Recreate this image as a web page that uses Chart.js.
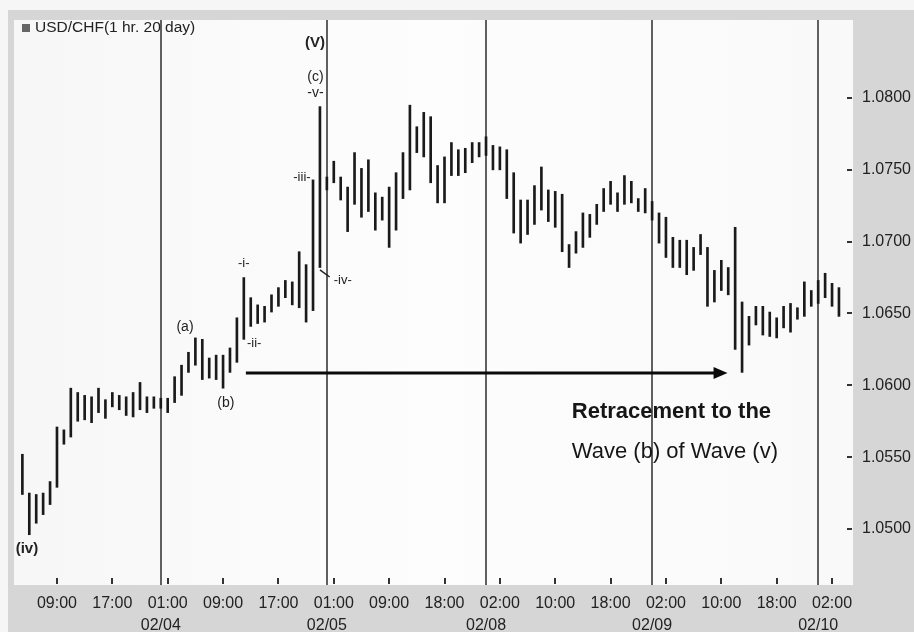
<!DOCTYPE html>
<html><head><meta charset="utf-8">
<script src="https://cdn.jsdelivr.net/npm/chart.js@4"></script>
<style>html,body{margin:0;padding:0;background:#f6f6f6;}canvas{display:block;}</style>
</head><body>
<canvas id="c" width="914" height="632"></canvas>
<script>
// ---- data (1-hour bars, USD/CHF) ----
const highs = [
1.0552,1.0525,1.0524,1.0525,1.0533,1.0571,1.0569,1.0598,1.0595,1.0593,
1.0592,1.0598,1.0590,1.0595,1.0593,1.0592,1.0595,1.0602,1.0592,1.0592,
1.0591,1.0591,1.0606,1.0614,1.0623,1.0633,1.0632,1.0619,1.0621,1.0621,
1.0626,1.0647,1.0675,1.0661,1.0656,1.0655,1.0663,1.0668,1.0673,1.0672,
1.0693,1.0684,1.0743,1.0794,1.0745,1.0756,1.0745,1.0738,1.0762,1.0751,
1.0757,1.0734,1.0731,1.0738,1.0748,1.0762,1.0795,1.0780,1.0790,1.0787,
1.0753,1.0759,1.0769,1.0764,1.0765,1.0769,1.0769,1.0773,1.0767,1.0766,
1.0764,1.0748,1.0729,1.0729,1.0739,1.0752,1.0736,1.0735,1.0733,1.0698,
1.0707,1.0720,1.0719,1.0726,1.0737,1.0742,1.0734,1.0746,1.0742,1.0730,
1.0737,1.0728,1.0720,1.0717,1.0703,1.0701,1.0701,1.0696,1.0705,1.0696,
1.0680,1.0687,1.0682,1.0710,1.0658,1.0648,1.0655,1.0655,1.0651,1.0647,
1.0655,1.0657,1.0654,1.0672,1.0666,1.0673,1.0678,1.0671,1.0668
];
const lows = [
1.0524,1.0496,1.0504,1.0510,1.0517,1.0529,1.0559,1.0564,1.0575,1.0576,
1.0574,1.0581,1.0577,1.0585,1.0583,1.0579,1.0578,1.0583,1.0581,1.0584,
1.0584,1.0581,1.0588,1.0593,1.0609,1.0614,1.0604,1.0605,1.0604,1.0598,
1.0609,1.0616,1.0632,1.0641,1.0643,1.0644,1.0651,1.0655,1.0661,1.0656,
1.0654,1.0644,1.0652,1.0682,1.0736,1.0741,1.0729,1.0707,1.0726,1.0717,
1.0721,1.0708,1.0715,1.0696,1.0708,1.0730,1.0736,1.0762,1.0759,1.0741,
1.0727,1.0727,1.0746,1.0746,1.0748,1.0755,1.0759,1.0760,1.0750,1.0750,
1.0730,1.0706,1.0699,1.0705,1.0712,1.0722,1.0714,1.0710,1.0693,1.0682,
1.0692,1.0696,1.0703,1.0712,1.0721,1.0726,1.0721,1.0726,1.0727,1.0721,
1.0720,1.0715,1.0699,1.0689,1.0682,1.0682,1.0677,1.0680,1.0691,1.0655,
1.0658,1.0666,1.0663,1.0625,1.0609,1.0628,1.0642,1.0635,1.0634,1.0633,
1.0640,1.0637,1.0646,1.0648,1.0655,1.0657,1.0661,1.0655,1.0648
];
const barIndex = highs.map((_, i) => i);           // hourly bar number
const tickIndex  = [5,13,21,29,37,45,53,61,69,77,85,93,101,109,117];
const tickLabels = ['09:00','17:00','01:00','09:00','17:00','01:00','09:00','18:00','02:00','10:00','18:00','02:00','10:00','18:00','02:00'];
const dayBreaks  = [20,44,67,91,115];
const dayLabels  = ['02/04','02/05','02/08','02/09','02/10'];
const priceTicks = [1.05,1.055,1.06,1.065,1.07,1.075,1.08];
const seriesName = 'USD/CHF(1 hr. 20 day)';
const waveLabels = [
  {t:'(iv)',  i:0.66,  p:1.04861, bold:true,  size:15},
  {t:'(V)',   i:42.28, p:1.08383, bold:true,  size:15},
  {t:'(c)',   i:42.35, p:1.08146, bold:false, size:14},
  {t:'-v-',   i:42.35, p:1.08035, bold:false, size:14},
  {t:'-iii-', i:40.4,  p:1.07450, bold:false, size:13},
  {t:'-iv-',  i:46.3,  p:1.06733, bold:false, size:13},
  {t:'(a)',   i:23.5,  p:1.06406, bold:false, size:14},
  {t:'(b)',   i:29.4,  p:1.05877, bold:false, size:14},
  {t:'-i-',   i:32.0,  p:1.06852, bold:false, size:13},
  {t:'-ii-',  i:33.5,  p:1.06295, bold:false, size:13}
];
const ivLink = {i1:43.0, p1:1.06803, i2:44.4, p2:1.06754};
const arrow = {from:32.3, to:101.9, p:1.06086};
const noteLines = [
  {t:'Retracement to the',   i:79.4, p:1.05814, bold:true},
  {t:'Wave (b) of Wave (v)', i:79.4, p:1.05536, bold:false}
];

const FONT = '"Liberation Sans", Arial, Helvetica, sans-serif';

const bgPlugin = {
  id:'bg',
  beforeDraw(chart){
    const {ctx, chartArea:a, width, height} = chart;
    ctx.save();
    ctx.fillStyle = '#f6f6f6'; ctx.fillRect(0,0,width,height);
    ctx.fillStyle = '#d6d6d6'; ctx.fillRect(8,10,width-8,height-10);
    const g = ctx.createLinearGradient(a.left,0,a.right,0);
    g.addColorStop(0,'#f7f7f7'); g.addColorStop(0.5,'#fdfdfd'); g.addColorStop(1,'#f9f9f9');
    ctx.fillStyle = g; ctx.fillRect(a.left,a.top,a.right-a.left,a.bottom-a.top);
    ctx.restore();
  },
  beforeDatasetsDraw(chart){
    const {ctx, chartArea:a, scales:{x}} = chart;
    ctx.save();
    ctx.strokeStyle = '#606060'; ctx.lineWidth = 2;
    dayBreaks.forEach(d => {
      const px = Math.round(x.getPixelForValue(d));
      ctx.beginPath(); ctx.moveTo(px, a.top); ctx.lineTo(px, a.bottom); ctx.stroke();
    });
    ctx.restore();
  },
  afterDraw(chart){
    const {ctx, chartArea:a, scales:{x,y}} = chart;
    ctx.save();
    // x tick marks (inside plot) and day labels
    ctx.fillStyle = '#333';
    tickIndex.forEach(v => { const px = Math.round(x.getPixelForValue(v)); ctx.fillRect(px-1, a.bottom-7, 2, 6); });
    // y tick dashes
    priceTicks.forEach(v => { const py = Math.round(y.getPixelForValue(v)); ctx.fillRect(a.right-6, py-1, 5, 2); });
    ctx.fillStyle = '#222'; ctx.font = '16px ' + FONT; ctx.textAlign = 'center'; ctx.textBaseline = 'middle';
    dayBreaks.forEach((d,k) => ctx.fillText(dayLabels[k], x.getPixelForValue(d), a.bottom + 41));
    // title
    ctx.fillStyle = '#666'; ctx.fillRect(22, 24, 8, 8);
    ctx.fillStyle = '#222'; ctx.font = '15.5px ' + FONT; ctx.textAlign = 'left'; ctx.textBaseline = 'middle';
    ctx.fillText(seriesName, 35, 28);
    // wave labels
    ctx.textAlign = 'center';
    waveLabels.forEach(l => {
      ctx.font = (l.bold ? 'bold ' : '') + l.size + 'px ' + FONT;
      ctx.fillText(l.t, x.getPixelForValue(l.i), y.getPixelForValue(l.p));
    });
    ctx.strokeStyle = '#222'; ctx.lineWidth = 1.5;
    ctx.beginPath();
    ctx.moveTo(x.getPixelForValue(ivLink.i1), y.getPixelForValue(ivLink.p1));
    ctx.lineTo(x.getPixelForValue(ivLink.i2), y.getPixelForValue(ivLink.p2));
    ctx.stroke();
    // arrow
    const ax1 = x.getPixelForValue(arrow.from), ax2 = x.getPixelForValue(arrow.to), ay = Math.round(y.getPixelForValue(arrow.p));
    ctx.strokeStyle = '#0a0a0a'; ctx.lineWidth = 3;
    ctx.beginPath(); ctx.moveTo(ax1, ay); ctx.lineTo(ax2 - 10, ay); ctx.stroke();
    ctx.fillStyle = '#0a0a0a';
    ctx.beginPath(); ctx.moveTo(ax2, ay); ctx.lineTo(ax2 - 14, ay - 6); ctx.lineTo(ax2 - 14, ay + 6); ctx.closePath(); ctx.fill();
    // note
    ctx.textAlign = 'left'; ctx.fillStyle = '#161616';
    noteLines.forEach(n => {
      ctx.font = (n.bold ? 'bold ' : '') + '22px ' + FONT;
      ctx.fillText(n.t, x.getPixelForValue(n.i), y.getPixelForValue(n.p));
    });
    ctx.restore();
  }
};

new Chart(document.getElementById('c'), {
  type: 'bar',
  data: {
    datasets: [{
      label: seriesName,
      data: barIndex.map(i => ({x: i, y: [lows[i], highs[i]]})),
      backgroundColor: '#1a1a1a',
      borderWidth: 0,
      barThickness: 2,
      grouped: false
    }]
  },
  options: {
    responsive: false, animation: false, devicePixelRatio: 1,
    layout: {padding: {left: 14, top: 20, right: 0, bottom: 0}},
    plugins: {legend: {display: false}, tooltip: {enabled: false}},
    scales: {
      x: {
        type: 'linear', min: -1.21, max: 120.03, offset: false,
        grid: {display: false, drawTicks: false}, border: {display: false},
        afterBuildTicks: s => { s.ticks = tickIndex.map(v => ({value: v})); },
        afterFit: s => { s.height = 47; },
        ticks: {autoSkip: false, maxRotation: 0, padding: 9, color: '#222',
          font: {family: FONT, size: 16},
          callback: (v, idx) => tickLabels[idx]}
      },
      y: {
        position: 'right', min: 1.0461, max: 1.08543,
        grid: {display: false, drawTicks: false}, border: {display: false},
        afterBuildTicks: s => { s.ticks = priceTicks.map(v => ({value: v})); },
        afterFit: s => { s.width = 61; },
        ticks: {padding: 9, color: '#222', font: {family: FONT, size: 16},
          callback: v => Number(v).toFixed(4)}
      }
    }
  },
  plugins: [bgPlugin]
});
</script>
</body></html>
